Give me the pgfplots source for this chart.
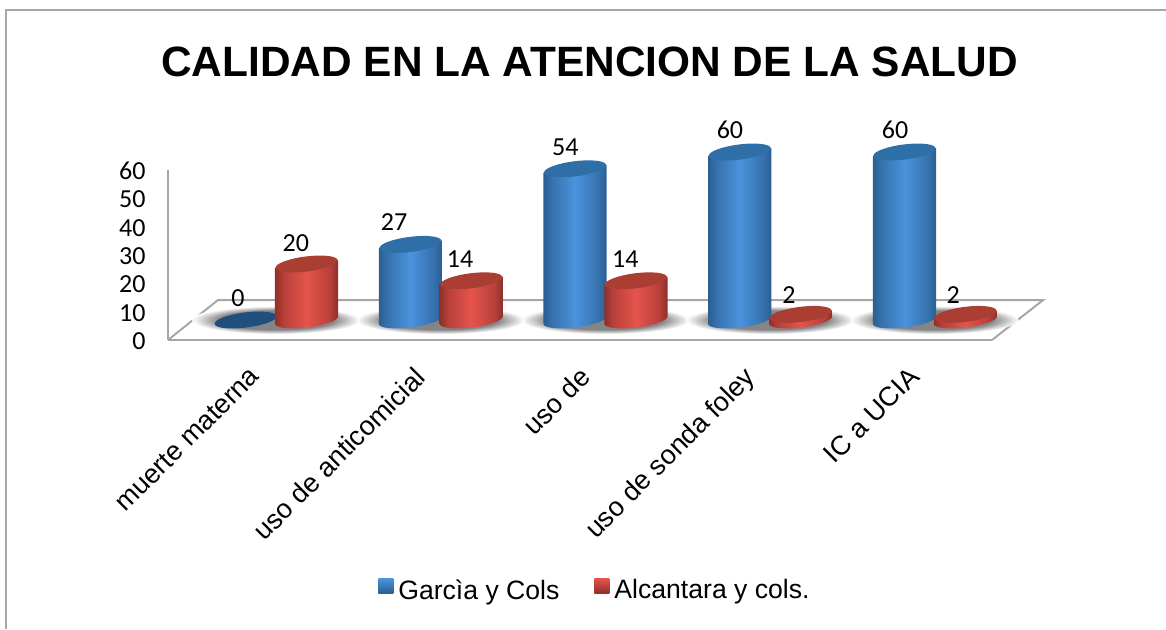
\documentclass[border=0pt]{standalone}
\usepackage{fontspec}
\usepackage{pgfplots}
\usepackage{pgfplotstable}
\pgfplotsset{compat=1.18}
\setmainfont{Liberation Sans}
\newfontfamily\calibri{Carlito}
\definecolor{axisgray}{HTML}{A6A6A6}
\definecolor{blueedge}{HTML}{2A5D8F}
\definecolor{bluemid}{HTML}{3672AD}
\definecolor{bluelight}{HTML}{4A93DD}
\definecolor{bluetop}{HTML}{2F6FA8}
\definecolor{bluezero}{HTML}{1F4F7C}
\definecolor{rededge}{HTML}{8B2E28}
\definecolor{redmid}{HTML}{B8403A}
\definecolor{redlight}{HTML}{E5544C}
\definecolor{redtop}{HTML}{AB3E32}
\definecolor{shadowgray}{HTML}{858585}
\pgfdeclarehorizontalshading{cylblueshade}{100bp}{color(0bp)=(blueedge);color(25bp)=(blueedge);color(32bp)=(bluemid);color(50bp)=(bluelight);color(68bp)=(bluemid);color(75bp)=(blueedge);color(100bp)=(blueedge)}
\pgfdeclarehorizontalshading{cylredshade}{100bp}{color(0bp)=(rededge);color(25bp)=(rededge);color(32bp)=(redmid);color(50bp)=(redlight);color(68bp)=(redmid);color(75bp)=(rededge);color(100bp)=(rededge)}
\pgfdeclareradialshading{floorshadow}{\pgfpointorigin}{color(0bp)=(shadowgray);color(17bp)=(shadowgray);color(25bp)=(white);color(50bp)=(white)}
\newdimen\cylH
\newdimen\cylA
\newdimen\cylB
\newdimen\cylC
\newcommand\cylmark[4]{%
  \pgfscope
  \pgftransformxshift{#1}%
  \cylH=\cylval pt
  \cylH=2.8\cylH
  \ifdim\cylH>0pt
    \cylA=\dimexpr-\cylH-3.9pt\relax
    \cylB=\dimexpr-\cylH+3.9pt\relax
    \cylC=\dimexpr-\cylH\relax
    \pgfscope
    \pgfpathellipse{\pgfqpoint{0pt}{\cylC}}{\pgfqpoint{31.6pt}{3.9pt}}{\pgfqpoint{-0.9pt}{7.5pt}}%
    \pgfpathmoveto{\pgfqpoint{-31.6pt}{\cylA}}%
    \pgfpathlineto{\pgfqpoint{31.6pt}{\cylB}}%
    \pgfpathlineto{\pgfqpoint{31.6pt}{3.9pt}}%
    \pgfpathlineto{\pgfqpoint{-31.6pt}{-3.9pt}}%
    \pgfpathclose
    \pgfshadepath{#2}{0}%
    \pgfusepath{discard}%
    \endpgfscope
    \pgfsetfillcolor{#3}%
  \else
    \pgfsetfillcolor{#4}%
  \fi
  \pgfpathellipse{\pgfpointorigin}{\pgfqpoint{31.0pt}{3.9pt}}{\pgfqpoint{-0.9pt}{7.5pt}}%
  \pgfusepath{fill}%
  \endpgfscope
}
\pgfdeclareplotmark{cylblue}{\cylmark{-30.2pt}{cylblueshade}{bluetop}{bluezero}}
\pgfdeclareplotmark{cylred}{\cylmark{30.7pt}{cylredshade}{redtop}{redtop}}
\pgfdeclareplotmark{floorshade}{%
  \pgfscope
  \pgfpathellipse{\pgfpointorigin}{\pgfqpoint{84pt}{0pt}}{\pgfqpoint{0pt}{14pt}}%
  \pgfshadepath{floorshadow}{0}%
  \pgfusepath{discard}%
  \endpgfscope
}
\pgfplotstableread{
x y dx dy
0 0 -37.8 22
1 27 -46.5 22
2 54 -40 22
3 60 -40 22
4 60 -39.5 22
}\garcia
\pgfplotstableread{
x y dx dy
0 20 20 21
1 14 19.5 22
2 14 20 22
3 2 19 19
4 2 18.5 19
}\alcantara
\pgfplotstableread{
x y
0 0
1 0
2 0
3 0
4 0
}\floorspots
\pgfplotsset{cyl/.style={
  scatter,only marks,scatter src=y,
  visualization depends on={rawy \as \cylval},
  visualization depends on={\thisrow{dx} \as \labdx},
  visualization depends on={\thisrow{dy} \as \labdy},
  nodes near coords,
  nodes near coords style={font=\calibri\fontsize{26}{30}\selectfont,anchor=center,text=black,
    xshift=\labdx pt,yshift=\labdy pt},
}}
\begin{document}
\begin{tikzpicture}
\path[use as bounding box] (0pt,0pt) rectangle (1166pt,629pt);
\draw[axisgray,line width=2pt] (6pt,0pt) -- (6pt,619pt) -- (1166pt,619pt);
% front axis with tick labels and the floor
\begin{axis}[
  at={(168pt,289pt)},anchor=south west,scale only axis,
  width=824pt,height=170pt,
  xmin=-0.5,xmax=4.5,ymin=0,ymax=60,clip=false,
  axis x line=bottom,axis y line=left,
  axis line style={-,draw=axisgray,line width=2pt},
  major tick length=0pt,
  ytick={0,10,20,30,40,50,60},
  xtick={0,1,2,3,4},
  xticklabels={muerte materna,uso de anticomicial,uso de,uso de sonda foley,IC a UCIA},
  /pgf/number format/assume math mode=true,
  yticklabel style={font=\calibri\fontsize{26}{30}\selectfont,anchor=east,xshift=-19pt,yshift=-1pt},
  xticklabel style={font=\fontsize{27}{30}\selectfont,rotate=45,anchor=north east,xshift=-16pt,yshift=-13pt},
]
\addplot[axisgray,line width=2pt,no markers] coordinates {(-0.5,0)(-0.197,14.1)(4.81,14.1)(4.5,0)};
\end{axis}
% cylinders
\begin{axis}[
  at={(193.5pt,309pt)},anchor=south west,scale only axis,
  width=823.5pt,height=168pt,
  xmin=-0.5,xmax=4.5,ymin=0,ymax=60,clip=false,
  hide axis,
  /pgf/number format/assume math mode=true,
  title={\fontsize{42.4}{46}\selectfont\bfseries CALIDAD EN LA ATENCION DE LA SALUD},
  title style={at={(axis description cs:0.481,1.500)},anchor=center},
  legend style={at={(axis description cs:0.4875,-1.607)},anchor=center,draw=none,fill=none,
    legend columns=2,font=\fontsize{26.6}{30}\selectfont,
    /tikz/every even column/.style={column sep=33pt}},
]
\addplot[only marks,mark=floorshade,forget plot] table[x=x,y=y] {\floorspots};
\addplot[cyl,mark=cylblue,
  legend image code/.code={\shade[draw=none,top color=bluelight,bottom color=blueedge] (0pt,-3.5pt) rectangle (15pt,11.5pt);\path[draw=none] (0pt,0pt) -- (18pt,0pt);}]
  table[x=x,y=y] {\garcia};
\addlegendentry{Garcìa y Cols}
\addplot[cyl,mark=cylred,
  legend image code/.code={\shade[draw=none,top color=redlight,bottom color=rededge] (0pt,-3.5pt) rectangle (15pt,11.5pt);\path[draw=none] (0pt,0pt) -- (18pt,0pt);}]
  table[x=x,y=y] {\alcantara};
\addlegendentry{Alcantara y cols.}
\end{axis}
\end{tikzpicture}
\end{document}
